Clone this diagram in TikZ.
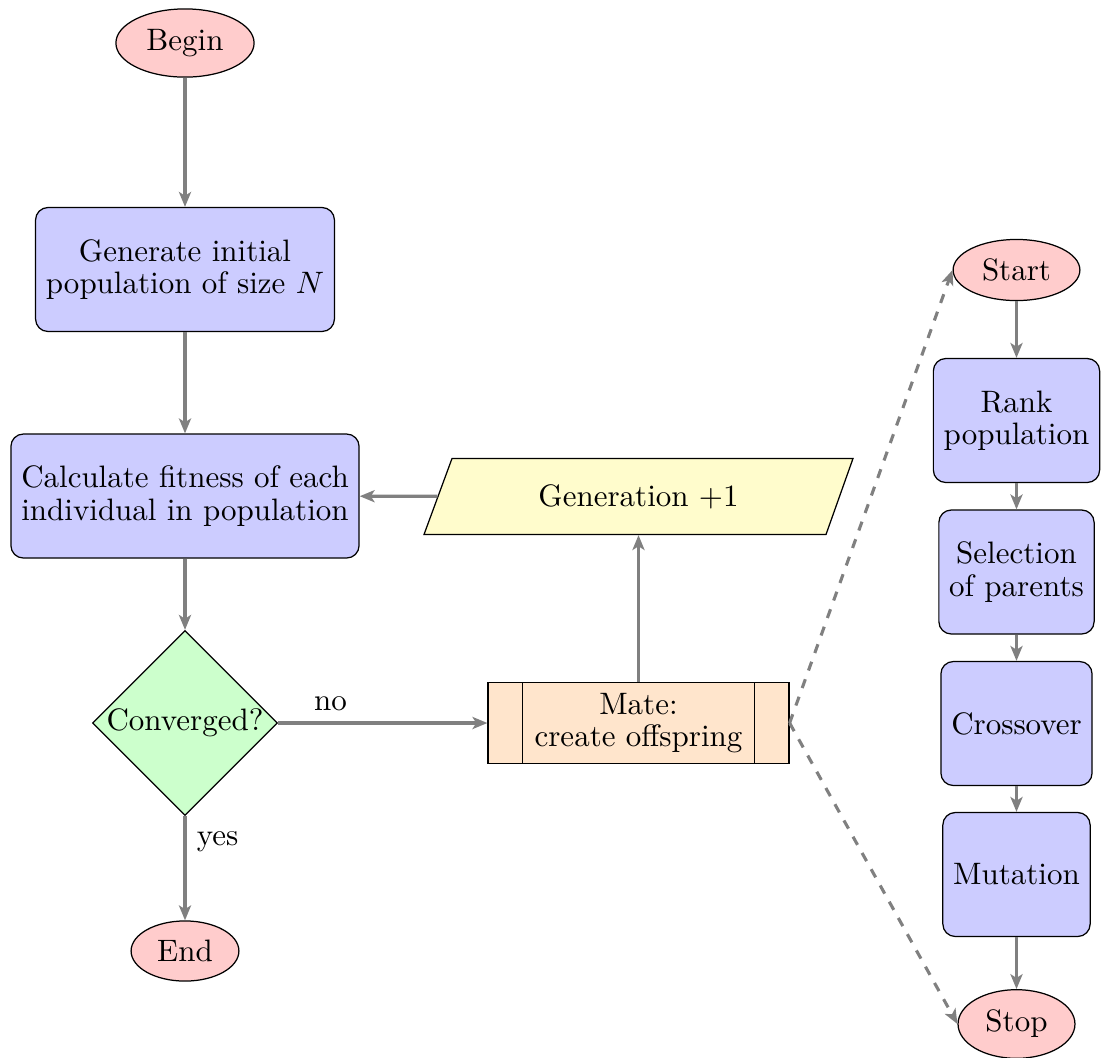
\documentclass[tikz,border=0pt]{standalone}
\usetikzlibrary{shapes.geometric,arrows.meta}
\begin{document}
\begin{tikzpicture}[x=0.3226pt,y=-0.3226pt,
  every node/.style={font=\fontsize{10}{10.4}\selectfont},
  term/.style={ellipse,draw,fill=red!20},
  procbox/.style={rectangle,draw,fill=blue!20,rounded corners,minimum height=4em,align=center},
  decide/.style={diamond,draw,fill=green!20,inner sep=0pt,aspect=1},
  iobox/.style={rectangle,inner sep=0pt,minimum width=129.4pt,minimum height=24.5pt},
  matebox/.style={rectangle,draw,fill=orange!20,align=center,minimum width=97.1pt},
  conn/.style={draw=gray,line width=1pt,-{Stealth[length=4.8pt,width=3.9pt,inset=1.2pt]}},
  dconn/.style={conn,dashed},
  lbl/.style={font=\fontsize{10}{10.4}\selectfont}
]
\useasboundingbox (0,0) rectangle (1102,1057);

% left column
\node[term] (begin) at (185,43) {Begin};
\node[procbox] (init) at (185,269.5) {Generate initial\\population of size $N$};
\node[procbox] (fit) at (185,496) {Calculate fitness of each\\individual in population};
\node[decide] (conv) at (185,723) {Converged?};
\node[term] (end) at (185,951) {End};

% generation +1 (parallelogram)
\draw[fill=yellow!20] (424,534.5) -- (826,534.5) -- (853,458.5) -- (452,458.5) -- cycle;
\node[iobox] (gen) at (638.5,496.5) {Generation $+1$};

% mate
\node[matebox] (mate) at (638.5,723) {Mate:\\create offspring};
\draw ([xshift=11.3pt]mate.north west) -- ([xshift=11.3pt]mate.south west);
\draw ([xshift=-11.3pt]mate.north east) -- ([xshift=-11.3pt]mate.south east);

% right column
\node[term] (start) at (1016.5,270) {Start};
\node[procbox] (rank) at (1016.5,420.5) {Rank\\population};
\node[procbox] (sel) at (1016.5,572) {Selection\\of parents};
\node[procbox] (cross) at (1016.5,723.5) {Crossover};
\node[procbox] (mut) at (1016.5,874.5) {Mutation};
\node[term] (stop) at (1016.5,1024) {Stop};

% connectors
\draw[conn] (begin) -- (init);
\draw[conn] (init) -- (fit);
\draw[conn] (fit) -- (conv);
\draw[conn] (conv) -- node[lbl,right,pos=0.25] {yes} (end);
\draw[conn] (conv) -- node[lbl,above,pos=0.25] {no} (mate);
\draw[conn] (mate) -- (gen);
\draw[conn] (gen) -- (fit);
\draw[dconn] (mate.east) -- (start.west);
\draw[dconn] (mate.east) -- (stop.west);
\draw[conn] (start) -- (rank);
\draw[conn] (rank) -- (sel);
\draw[conn] (sel) -- (cross);
\draw[conn] (cross) -- (mut);
\draw[conn] (mut) -- (stop);
\end{tikzpicture}
\end{document}
